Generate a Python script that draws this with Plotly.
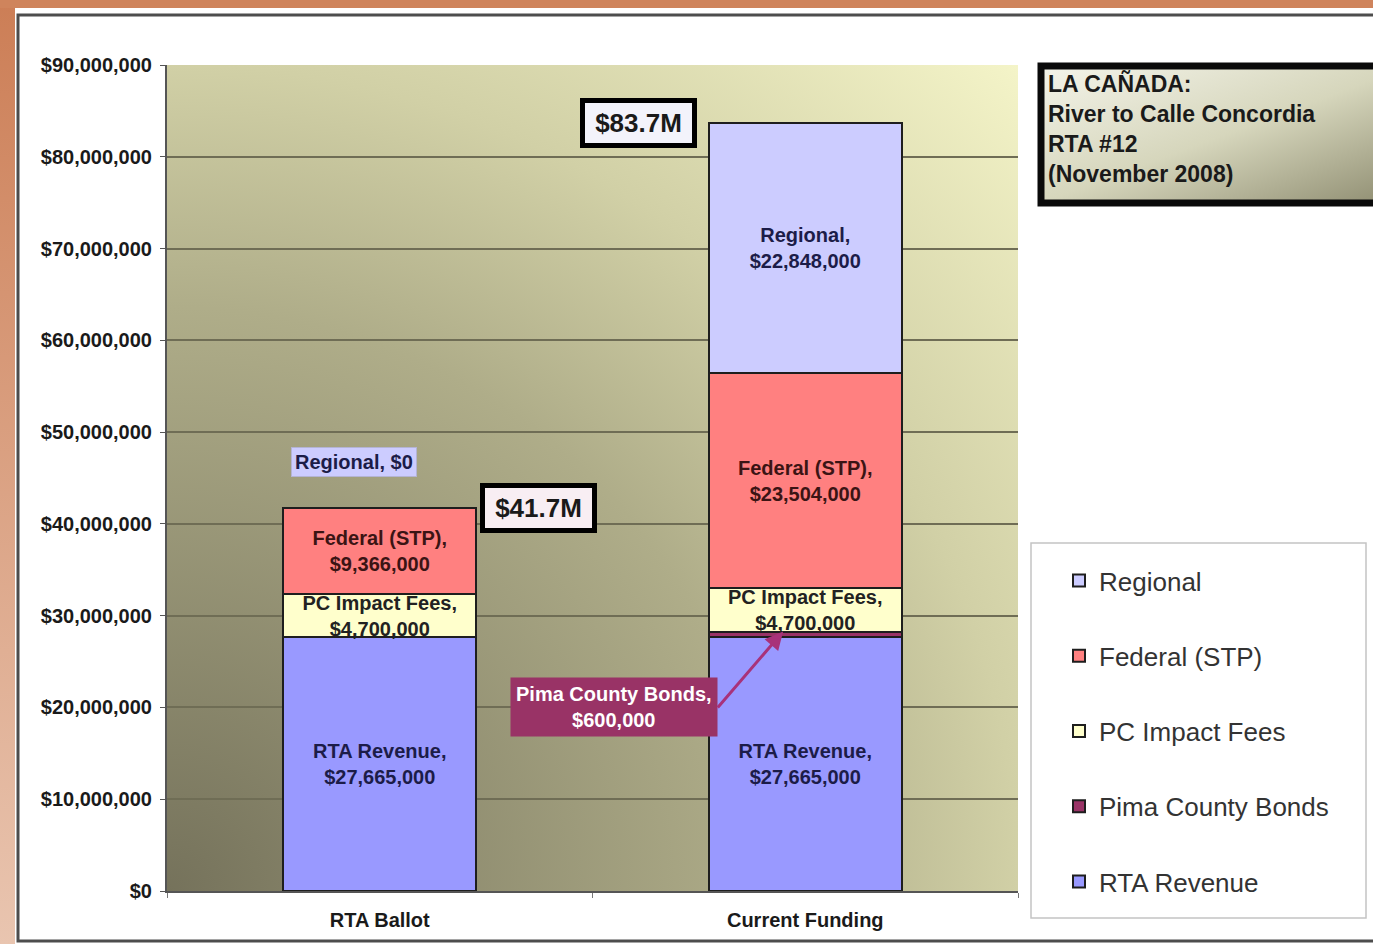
import base64
import plotly.graph_objects as go

# ---------------- data ----------------
categories = ["RTA Ballot", "Current Funding"]
rta_revenue = [27665000, 27665000]
pima_bonds = [0, 600000]
pc_impact_fees = [4700000, 4700000]
federal_stp = [9366000, 23504000]
regional = [0, 27250000]            # drawn bar height
regional_printed = [0, 22848000]    # amount printed in the chart's data label
tick_values = [0, 10000000, 20000000, 30000000, 40000000, 50000000,
               60000000, 70000000, 80000000, 90000000]
title_lines = ["LA CAÑADA:", "River to Calle Concordia", "RTA #12", "(November 2008)"]

# ---------------- geometry helpers ----------------
W, H = 1373, 944
ML, MR, MT, MB = 167, 355, 65, 53
PW, PH = W - ML - MR, H - MT - MB


def px(x):
    return (x - ML) / PW


def py(y):
    return (H - MB - y) / PH


def svg_linear(stops, x1, y1, x2, y2):
    st = "".join(f'<stop offset="{o}" stop-color="{c}"/>' for o, c in stops)
    svg = (f'<svg xmlns="http://www.w3.org/2000/svg" width="100" height="100" '
           f'preserveAspectRatio="none" viewBox="0 0 100 100">'
           f'<defs><linearGradient id="g" x1="{x1}" y1="{y1}" x2="{x2}" y2="{y2}">{st}'
           f'</linearGradient></defs><rect width="100" height="100" fill="url(#g)"/></svg>')
    return "data:image/svg+xml;base64," + base64.b64encode(svg.encode()).decode()


def svg_radial(stops, cx, cy, r):
    st = "".join(f'<stop offset="{o}" stop-color="{c}"/>' for o, c in stops)
    svg = (f'<svg xmlns="http://www.w3.org/2000/svg" width="100" height="100" '
           f'preserveAspectRatio="none" viewBox="0 0 100 100">'
           f'<defs><radialGradient id="g" cx="{cx}" cy="{cy}" r="{r}" fx="{cx}" fy="{cy}">{st}'
           f'</radialGradient></defs><rect width="100" height="100" fill="url(#g)"/></svg>')
    return "data:image/svg+xml;base64," + base64.b64encode(svg.encode()).decode()


FONT = "Liberation Sans, Arial, sans-serif"

series = [
    ("RTA Revenue", rta_revenue, rta_revenue, "#9999ff", "#1c1c48", True, 5),
    ("Pima County Bonds", pima_bonds, pima_bonds, "#993366", "#ffffff", False, 4),
    ("PC Impact Fees", pc_impact_fees, pc_impact_fees, "#ffffcc", "#222222", True, 3),
    ("Federal (STP)", federal_stp, federal_stp, "#ff8080", "#3b1414", True, 2),
    ("Regional", regional, regional_printed, "#ccccff", "#1c1c48", True, 1),
]

fig = go.Figure()
for name, vals, printed, color, tcolor, inside, rank in series:
    texts = [f"{name},<br>${p:,.0f}" if (inside and v > 0) else "" for v, p in zip(vals, printed)]
    fig.add_trace(go.Bar(
        x=categories, y=vals, name=name, legendgroup=name, legendrank=rank,
        marker=dict(color=color, line=dict(color="#1e1e1e", width=2)),
        text=texts, textposition="inside", insidetextanchor="middle",
        textangle=0, constraintext="none",
        insidetextfont=dict(family=FONT, size=20, color=tcolor, weight="bold"),
        hoverinfo="skip",
    ))

totals = [sum(s[1][k] for s in series) for k in range(len(categories))]

annotations = []
# total boxes
total_x_offsets = [0.372, -0.392]
total_bg = ["#f8eef3", "#f3f3fb"]
for k, t in enumerate(totals):
    annotations.append(dict(
        x=k + total_x_offsets[k], y=t, xref="x", yref="y",
        text=f"${t / 1e6:.1f}M", showarrow=False,
        font=dict(family=FONT, size=26, color="#1a1a1a", weight="bold"),
        bgcolor=total_bg[k], bordercolor="#000000", borderwidth=5, borderpad=3,
        width=101, height=34,
    ))

# Regional $0 label
annotations.append(dict(
    x=-0.061, y=46.7e6, xref="x", yref="y",
    text=f"Regional, ${regional_printed[0]:,.0f}", showarrow=False,
    font=dict(family=FONT, size=20, color="#1c1c48", weight="bold"),
    bgcolor="#ccccff", bordercolor="#b4b4d4", borderwidth=1, borderpad=3,
))

# Pima County Bonds callout
annotations.append(dict(
    x=0.948, y=rta_revenue[1] + pima_bonds[1], xref="x", yref="y",
    ax=0.7944, ay=20.0e6, axref="x", ayref="y",
    xanchor="right", yanchor="middle",
    text=f"Pima County Bonds,<br>${pima_bonds[1]:,.0f}",
    showarrow=True, arrowhead=2, arrowsize=1.2, arrowwidth=3, arrowcolor="#a8327a",
    font=dict(family=FONT, size=20, color="#ffffff", weight="bold"),
    bgcolor="#993366", borderpad=5,
))

# Title box text
annotations.append(dict(
    x=px(1046), y=py(128), xref="paper", yref="paper",
    xanchor="left", yanchor="middle", align="left", showarrow=False,
    text="<br>".join(title_lines),
    font=dict(family=FONT, size=23, color="#1a1a1a", weight="bold"),
))

shapes = [
    # top orange band
    dict(type="rect", xref="paper", yref="paper", x0=px(0), x1=px(1400), y0=py(8), y1=py(0),
         fillcolor="#cf845c", line=dict(width=0), layer="below"),
    # dark outer frame
    dict(type="rect", xref="paper", yref="paper", x0=px(18), x1=px(1420), y0=py(941), y1=py(15),
         line=dict(color="#4d4d4d", width=3), fillcolor="rgba(0,0,0,0)", layer="above"),
    # legend box
    dict(type="rect", xref="paper", yref="paper", x0=px(1031), x1=px(1366), y0=py(918), y1=py(543),
         line=dict(color="#c4c4c4", width=1.5), fillcolor="#ffffff", layer="below"),
    # title box border
    dict(type="rect", xref="paper", yref="paper", x0=px(1041), x1=px(1410), y0=py(203), y1=py(66),
         line=dict(color="#0a0a0a", width=7), fillcolor="rgba(0,0,0,0)", layer="above"),
]

images = [
    # plot area gradient (dark bottom-left corner fading to light top-right)
    dict(source=svg_radial([(0, "#75725b"), (0.5, "#afad89"), (0.707, "#d1d0a6"), (1, "#f4f4c8")],
                           0, 1, 1.414),
         xref="paper", yref="paper", x=0, y=1, sizex=1, sizey=1,
         xanchor="left", yanchor="top", sizing="stretch", layer="below"),
    # left orange band
    dict(source=svg_linear([(0, "#cc7e56"), (1, "#e9c5b0")], 0, 0, 0, 1),
         xref="paper", yref="paper", x=px(0), y=py(0), sizex=15 / PW, sizey=H / PH,
         xanchor="left", yanchor="top", sizing="stretch", layer="below"),
    # title box gradient
    dict(source=svg_linear([(0, "#f4f4ea"), (0.5, "#d6d6bc"), (1, "#8c8a6e")], 0, 0, 1, 1),
         xref="paper", yref="paper", x=px(1041), y=py(66), sizex=(1410 - 1041) / PW,
         sizey=(203 - 66) / PH, xanchor="left", yanchor="top", sizing="stretch", layer="below"),
]

fig.update_layout(
    width=W, height=H, autosize=False,
    margin=dict(l=ML, r=MR, t=MT, b=MB, pad=0),
    paper_bgcolor="#ffffff", plot_bgcolor="rgba(0,0,0,0)",
    barmode="stack", bargap=0.546,
    font=dict(family=FONT, color="#1a1a1a"),
    showlegend=True,
    legend=dict(
        x=px(1059), y=py(557), xanchor="left", yanchor="top",
        traceorder="grouped", tracegroupgap=38.5,
        font=dict(family=FONT, size=26, color="#333333"),
        bgcolor="rgba(0,0,0,0)", borderwidth=0,
    ),
    annotations=annotations, shapes=shapes, images=images,
)

fig.update_yaxes(
    range=[0, 90000000], tickvals=tick_values, tickformat="$,.0f",
    showgrid=True, gridcolor="#6f6d55", gridwidth=1.5,
    showline=True, linecolor="#555555", linewidth=2,
    ticks="outside", ticklen=5, tickcolor="#555555", ticklabelstandoff=4,
    zeroline=False,
    tickfont=dict(family=FONT, size=20, color="#1a1a1a", weight="bold"),
)
fig.update_xaxes(
    showline=True, linecolor="#555555", linewidth=2,
    ticks="outside", ticklen=5, tickcolor="#777777", tickson="boundaries",
    ticklabelstandoff=10,
    tickfont=dict(family=FONT, size=20, color="#1a1a1a", weight="bold"),
)

fig.write_html(
    "out.html",
    config={"displayModeBar": False},
    post_script="document.body.style.margin='0';document.body.style.overflow='hidden';",
)
